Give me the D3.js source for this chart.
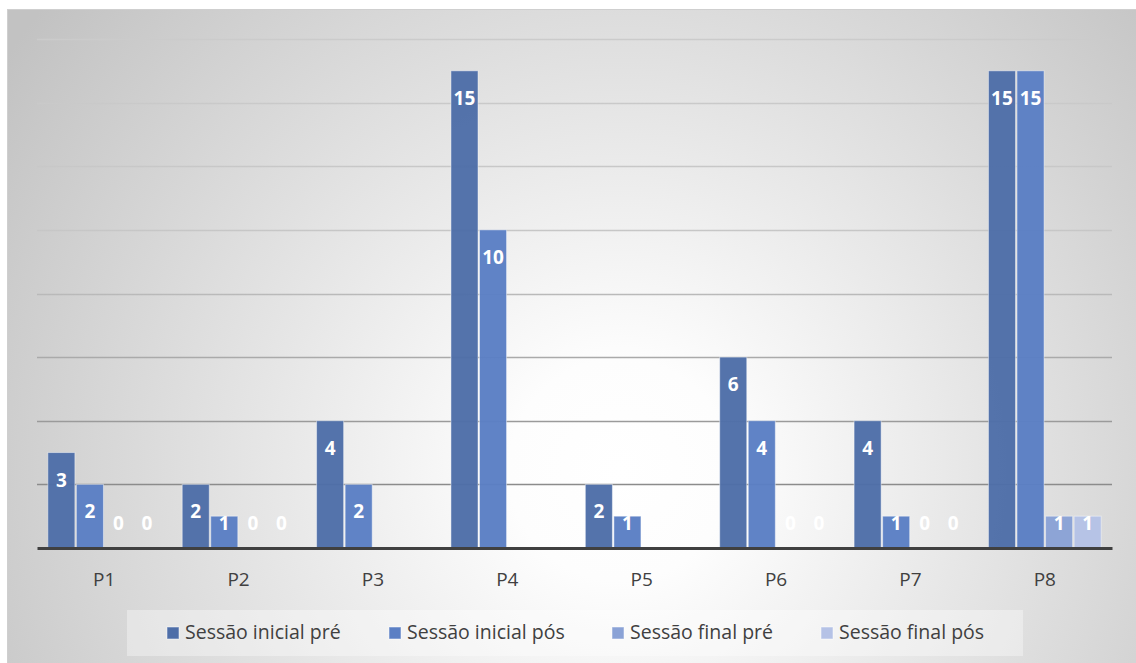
<!DOCTYPE html>
<html>
<head>
<meta charset="utf-8">
<script src="https://cdn.jsdelivr.net/npm/d3@7"></script>
<style>
html,body{margin:0;padding:0;background:#fff;}
svg{display:block;}
</style>
</head>
<body>
<svg id="chart" width="1136" height="663"></svg>
<script>
const categories = ["P1","P2","P3","P4","P5","P6","P7","P8"];
const seriesNames = ["Sessão inicial pré","Sessão inicial pós","Sessão final pré","Sessão final pós"];
const inicialPre = [3,2,4,15,2,6,4,15];
const inicialPos = [2,1,2,10,1,4,1,15];
const finalPre  = [0,0,null,null,null,0,0,1];
const finalPos  = [0,0,null,null,null,0,0,1];
const yTicks = [0,2,4,6,8,10,12,14,16];
const colors = ["#4e6ea8","#5b7fc4","#8aa2d6","#b5c2e6"];

const seriesValues = [inicialPre, inicialPos, finalPre, finalPos];

const svg = d3.select("#chart");
const defs = svg.append("defs");

const rg = defs.append("radialGradient").attr("id","bg")
  .attr("gradientUnits","userSpaceOnUse")
  .attr("cx",620).attr("cy",470).attr("r",740);
rg.append("stop").attr("offset","0").attr("stop-color","#ffffff");
rg.append("stop").attr("offset","0.15").attr("stop-color","#fdfdfd");
rg.append("stop").attr("offset","1").attr("stop-color","#c2c2c2");

const lg = defs.append("linearGradient").attr("id","grid")
  .attr("gradientUnits","userSpaceOnUse")
  .attr("x1",0).attr("y1",38).attr("x2",0).attr("y2",490);
lg.append("stop").attr("offset","0").attr("stop-color","#cbcbcb");
lg.append("stop").attr("offset","0.45").attr("stop-color","#c6c6c6");
lg.append("stop").attr("offset","1").attr("stop-color","#8a8a8a");

// chart area
svg.append("rect").attr("x",7.5).attr("y",9.5).attr("width",1140).attr("height",660)
  .attr("fill","url(#bg)").attr("stroke","#cfcfcf").attr("stroke-width",1);

const x0 = d3.scaleBand().domain(categories).range([37,1112]).paddingInner(0.15).paddingOuter(0.075);
const x1 = d3.scaleBand().domain(d3.range(seriesNames.length)).range([0,x0.bandwidth()]);
const y = d3.scaleLinear().domain([0,16]).range([548,39]);

// gridlines
svg.append("g").selectAll("line").data(yTicks.filter(d=>d>0)).join("line")
  .attr("x1",37).attr("x2",1112)
  .attr("y1",d=>Math.round(y(d))+0.5).attr("y2",d=>Math.round(y(d))+0.5)
  .attr("stroke","url(#grid)").attr("stroke-width",1.3);

// bars
const groups = svg.append("g").selectAll("g").data(categories).join("g")
  .attr("transform",d=>`translate(${x0(d)},0)`);

const cells = groups.selectAll("g").data((c,i)=>seriesValues.map((s,k)=>({k, v:s[i]}))).join("g");

cells.filter(d=>d.v!==null && d.v>0).append("rect")
  .attr("x",d=>x1(d.k)+0.75)
  .attr("width",x1.bandwidth()-1.5)
  .attr("y",d=>y(d.v))
  .attr("height",d=>y(0)-y(d.v))
  .attr("fill",d=>colors[d.k])
  .attr("fill-opacity",0.97)
  .attr("stroke","rgba(255,255,255,0.45)")
  .attr("stroke-width",1);

cells.filter(d=>d.v!==null).append("text")
  .attr("x",d=>x1(d.k)+x1.bandwidth()/2)
  .attr("y",d=>Math.min(y(d.v)+34, y(0)-18))
  .attr("text-anchor","middle")
  .attr("font-family","'Open Sans', sans-serif")
  .attr("font-weight","bold")
  .attr("font-size","19px")
  .attr("fill","#ffffff")
  .text(d=>d.v);

// baseline axis
const xAxis = d3.axisBottom(x0).tickSize(0).tickPadding(0);
const ax = svg.append("g").attr("transform",`translate(0,${y(0)})`).call(xAxis);
ax.select(".domain").attr("stroke","#404040").attr("stroke-width",3.2);
ax.selectAll("text").attr("y",38).attr("dy",0)
  .attr("font-family","'Open Sans', sans-serif").attr("font-size","19px").attr("fill","#404040");

// legend
svg.append("rect").attr("x",127).attr("y",610).attr("width",896).attr("height",46)
  .attr("fill","#ffffff").attr("fill-opacity",0.35);
const legendX = [167, 389, 612, 821];
const items = svg.append("g").selectAll("g").data(seriesNames).join("g")
  .attr("transform",(d,i)=>`translate(${legendX[i]},0)`);
items.append("rect").attr("width",12).attr("height",12).attr("y",627).attr("fill",(d,i)=>colors[i])
  .attr("stroke","rgba(255,255,255,0.5)");
items.append("text").attr("x",18).attr("y",639)
  .attr("font-family","'Open Sans', sans-serif").attr("font-size","19.5px").attr("fill","#404040")
  .text(d=>d);
</script>
</body>
</html>
